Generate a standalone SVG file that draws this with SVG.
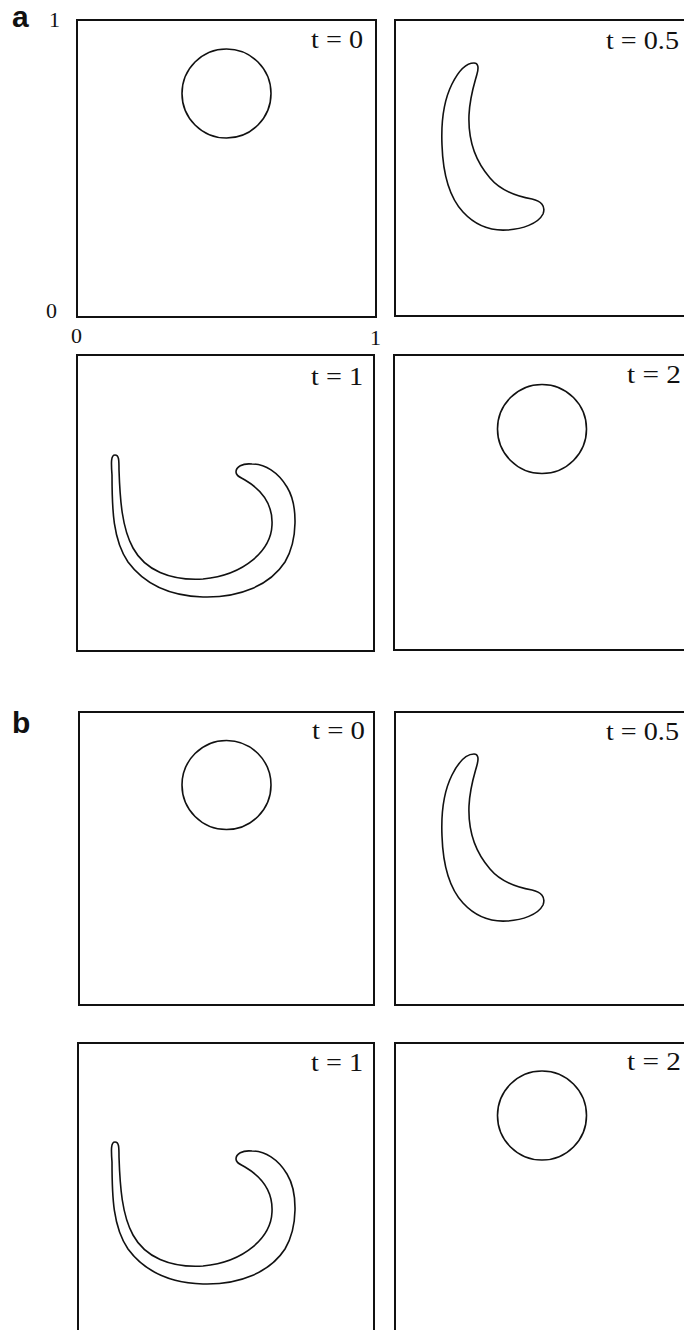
<svg xmlns="http://www.w3.org/2000/svg" width="684" height="1330" viewBox="0 0 684 1330">
<style>
.box{fill:none;stroke:#111;stroke-width:2}
.shape{fill:none;stroke:#111;stroke-width:1.6;stroke-linejoin:round}
.t{font-family:"Liberation Serif","Times New Roman",serif;font-size:25px;fill:#111}
.ax{font-family:"Liberation Serif","Times New Roman",serif;font-size:22px;fill:#111}
.pl{font-family:"Liberation Sans",Arial,sans-serif;font-weight:bold;font-size:30px;fill:#111}
</style>
<defs>
<circle id="circ" cx="0" cy="0" r="44.5" class="shape"/>
<path id="cres" class="shape" d="M 474 63 C 466 63 458 72 452 84 C 444 100 441 122 442 145 C 443 175 450 198 463 212 C 476 226 492 231 507 230 C 522 229 538 224 543 214 C 546 206 541 201 532 199 C 515 196 500 190 490 178 C 476 162 468 140 469 115 C 470 95 475 82 477 74 C 479 67 478 63 474 63 Z"/>
<path id="ushape" class="shape" d="M 115 455 C 111 455 111 462 112 475 C 112 510 113 540 128 562 C 145 585 170 596 203 597 C 240 598 270 585 285 562 C 298 540 298 505 287 487 C 278 472 265 464 252 464 C 242 463 236 467 236 472 C 236 476 240 477 245 480 C 262 490 273 505 272 525 C 271 550 245 575 203 579 C 170 581 145 570 133 548 C 122 528 120 500 119 470 C 119 460 119 455 115 455 Z"/>
</defs>

<g id="label-a"><text class="pl" x="12" y="27">a</text></g>
<g id="label-b"><text class="pl" x="12" y="733">b</text></g>

<g id="axes-a">
<text class="ax" x="49" y="27">1</text>
<text class="ax" x="46" y="318">0</text>
<text class="ax" x="71" y="343">0</text>
<text class="ax" x="370" y="345">1</text>
</g>

<g id="a-t0">
<rect class="box" x="77" y="20" width="299" height="297"/>
<use href="#circ" x="226.5" y="93.5"/>
<text class="t" x="311" y="48" textLength="52" lengthAdjust="spacingAndGlyphs">t = 0</text>
</g>
<g id="a-t05">
<rect class="box" x="395" y="20" width="310" height="296"/>
<use href="#cres"/>
<text class="t" x="606" y="49" textLength="73" lengthAdjust="spacingAndGlyphs">t = 0.5</text>
</g>
<g id="a-t1">
<rect class="box" x="77" y="355" width="297" height="296"/>
<use href="#ushape"/>
<text class="t" x="311" y="385" textLength="52" lengthAdjust="spacingAndGlyphs">t = 1</text>
</g>
<g id="a-t2">
<rect class="box" x="394" y="355" width="310" height="295"/>
<use href="#circ" x="542" y="429"/>
<text class="t" x="627" y="383" textLength="54" lengthAdjust="spacingAndGlyphs">t = 2</text>
</g>

<g id="b-t0">
<rect class="box" x="79" y="712" width="295" height="293"/>
<use href="#circ" x="226.5" y="785"/>
<text class="t" x="312" y="739" textLength="53" lengthAdjust="spacingAndGlyphs">t = 0</text>
</g>
<g id="b-t05">
<rect class="box" x="395" y="712" width="310" height="293"/>
<use href="#cres" y="691"/>
<text class="t" x="606" y="740" textLength="73" lengthAdjust="spacingAndGlyphs">t = 0.5</text>
</g>
<g id="b-t1">
<rect class="box" x="78" y="1043" width="296" height="300"/>
<use href="#ushape" y="687"/>
<text class="t" x="311" y="1071" textLength="52" lengthAdjust="spacingAndGlyphs">t = 1</text>
</g>
<g id="b-t2">
<rect class="box" x="395" y="1043" width="310" height="300"/>
<use href="#circ" x="542" y="1115.5"/>
<text class="t" x="627" y="1070" textLength="54" lengthAdjust="spacingAndGlyphs">t = 2</text>
</g>
</svg>
